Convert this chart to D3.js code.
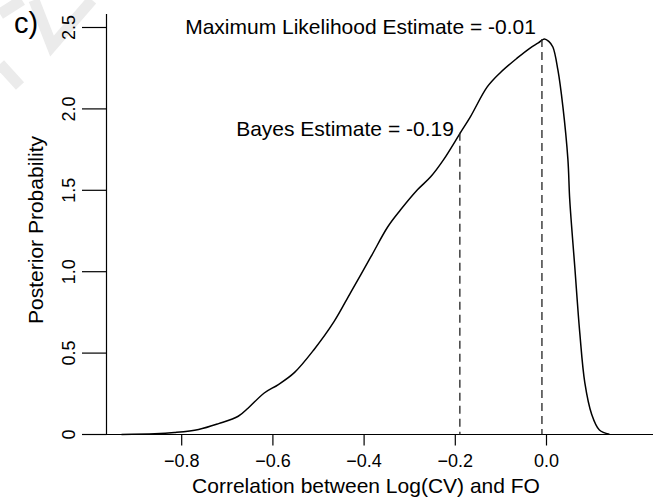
<!DOCTYPE html>
<html>
<head>
<meta charset="utf-8">
<script src="https://cdn.jsdelivr.net/npm/d3@7"></script>
<style>
    body { margin: 0; background: #fff; }
    text { font-family: "Liberation Sans", Arial, Helvetica, sans-serif; fill: #000; }
</style>
</head>
<body>
<script>
//posterior density
var corrX = [-0.932, -0.859, -0.816, -0.763, -0.719, -0.676, -0.654, -0.619, -0.588, -0.553,
    -0.510, -0.466, -0.429, -0.385, -0.348, -0.320, -0.283, -0.254, -0.226,
    -0.189, -0.167, -0.130, -0.102, -0.064, -0.036, -0.018, -0.005, 0.005, 0.014,
    0.025, 0.036, 0.047, 0.051, 0.062, 0.073, 0.084, 0.099, 0.116, 0.138];
var density = [0, 0.004, 0.012, 0.031, 0.067, 0.112, 0.163, 0.255, 0.307, 0.380,
    0.521, 0.693, 0.875, 1.092, 1.276, 1.380, 1.503, 1.583, 1.687,
    1.853, 1.951, 2.135, 2.221, 2.313, 2.374, 2.405, 2.430, 2.415, 2.380,
    2.239, 2.012, 1.687, 1.440, 1.030, 0.624, 0.319, 0.125, 0.028, 0.002];

var xTicks = [-0.8, -0.6, -0.4, -0.2, 0.0];
var yTicks = [0, 0.5, 1.0, 1.5, 2.0, 2.5];
var yTickLabels = ["0", "0.5", "1.0", "1.5", "2.0", "2.5"];

var estimateNames = ["Bayes Estimate", "Maximum Likelihood Estimate"];
var estimateValues = [-0.19, -0.01];
var estimateHeights = [1.853, 2.430];

(function(){

    window.onload = setChart();

    function setChart(){
        var width = 656,
            height = 499;

        var svg = d3.select("body")
            .append("svg")
            .attr("width", width)
            .attr("height", height);

        //faint watermark strokes in the corner
        var marks = [
            [[0, 14], [22, 0]],
            [[34, 0], [52, 46], [92, 0]],
            [[0, 64], [20, 86]]
        ];
        svg.selectAll(".wm")
            .data(marks)
            .enter()
            .append("path")
            .attr("class", "wm")
            .attr("d", d3.line())
            .attr("fill", "none")
            .attr("stroke", "#ebebeb")
            .attr("stroke-width", 11);

        var x = d3.scaleLinear()
            .domain([-0.8, 0])
            .range([181.7, 546.5]);

        var y = d3.scaleLinear()
            .domain([0, 2.5])
            .range([434.5, 27.5]);

        //axes, R style: y axis line runs to top of plot region
        svg.append("line")
            .attr("x1", 82).attr("x2", 653)
            .attr("y1", y(0)).attr("y2", y(0))
            .attr("stroke", "#000").attr("stroke-width", 1.2);
        svg.append("line")
            .attr("x1", 106.5).attr("x2", 106.5)
            .attr("y1", 14).attr("y2", y(0))
            .attr("stroke", "#000").attr("stroke-width", 1.2);

        svg.selectAll(".xtick")
            .data(xTicks)
            .enter()
            .append("line")
            .attr("class", "xtick")
            .attr("x1", function(d){ return x(d); })
            .attr("x2", function(d){ return x(d); })
            .attr("y1", y(0))
            .attr("y2", y(0) + 11)
            .attr("stroke", "#000").attr("stroke-width", 1.2);

        svg.selectAll(".xlab")
            .data(xTicks)
            .enter()
            .append("text")
            .attr("class", "xlab")
            .attr("x", function(d){ return x(d); })
            .attr("y", 467)
            .attr("text-anchor", "middle")
            .style("font-size", "18px")
            .text(function(d){ return d3.format(".1f")(d).replace("-", "\u2212"); });

        svg.selectAll(".ytick")
            .data(yTicks)
            .enter()
            .append("line")
            .attr("class", "ytick")
            .attr("x1", 82)
            .attr("x2", 106.5)
            .attr("y1", function(d){ return y(d); })
            .attr("y2", function(d){ return y(d); })
            .attr("stroke", "#000").attr("stroke-width", 1.2);

        svg.selectAll(".ylab")
            .data(yTicks)
            .enter()
            .append("text")
            .attr("class", "ylab")
            .attr("transform", function(d){ return "translate(75," + y(d) + ") rotate(-90)"; })
            .attr("text-anchor", "middle")
            .style("font-size", "18px")
            .text(function(d, i){ return yTickLabels[i]; });

        //titles
        svg.append("text")
            .attr("x", 366).attr("y", 493)
            .attr("text-anchor", "middle")
            .style("font-size", "21px")
            .text("Correlation between Log(CV) and FO");

        svg.append("text")
            .attr("transform", "translate(43,230) rotate(-90)")
            .attr("text-anchor", "middle")
            .style("font-size", "21px")
            .text("Posterior Probability");

        svg.append("text")
            .attr("x", 14).attr("y", 33)
            .style("font-size", "29px")
            .text("c)");

        //density curve
        var pts = corrX.map(function(d, i){ return [d, density[i]]; });
        var line = d3.line()
            .x(function(d){ return x(d[0]); })
            .y(function(d){ return y(d[1]); })
            .curve(d3.curveCatmullRom.alpha(0.5));

        svg.append("path")
            .datum(pts)
            .attr("d", line)
            .attr("fill", "none")
            .attr("stroke", "#000")
            .attr("stroke-width", 1.5);

        //estimate markers
        svg.selectAll(".est")
            .data(estimateValues)
            .enter()
            .append("line")
            .attr("class", "est")
            .attr("x1", function(d){ return x(d); })
            .attr("x2", function(d){ return x(d); })
            .attr("y1", function(d, i){ return y(estimateHeights[i]); })
            .attr("y2", y(0))
            .attr("stroke", "#222")
            .attr("stroke-width", 1.3)
            .attr("stroke-dasharray", "8,5");

        svg.selectAll(".estlab")
            .data(estimateValues)
            .enter()
            .append("text")
            .attr("class", "estlab")
            .attr("x", function(d){ return x(d) - 6; })
            .attr("y", function(d, i){ return y(estimateHeights[i]) - (i == 0 ? -3 : 5); })
            .attr("text-anchor", "end")
            .style("font-size", "21px")
            .text(function(d, i){ return estimateNames[i] + " = " + d; });
    };

})()
</script>
</body>
</html>
